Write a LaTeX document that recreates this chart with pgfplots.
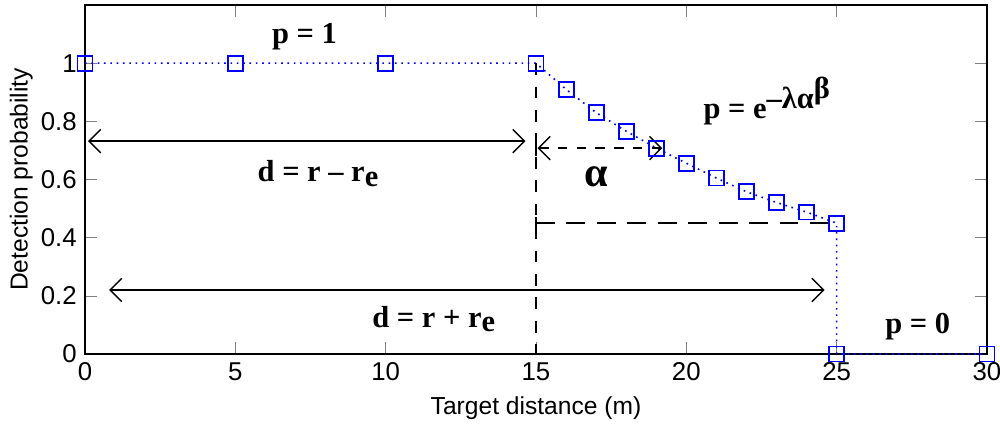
\documentclass[border=0pt]{standalone}
\usepackage{fontspec}
\setmainfont{Liberation Sans}
\newfontfamily\annf{Liberation Serif}
\usepackage{pgfplots}
\pgfplotsset{compat=1.18}
\usetikzlibrary{arrows.meta}
\begin{document}
\begin{tikzpicture}
\begin{axis}[
  scale only axis,
  width=13.53cm, height=5.235cm,
  xmin=0, xmax=30, ymin=0, ymax=1.2,
  xtick={0,5,...,30},
  ytick={0,0.2,0.4,0.6,0.8,1},
  yticklabels={0,0.2,0.4,0.6,0.8,1},
  tick align=inside,
  major tick length=5pt,
  xlabel={Target distance (m)},
  ylabel={Detection probability},
  ticklabel style={font=\fontsize{11}{12}\selectfont},
  label style={font=\fontsize{10.5}{12}\selectfont},
  ylabel style={yshift=-0.12cm},
  /pgf/number format/assume math mode=true,
  axis line style={line width=0.8pt},
  clip=false,
]
\addplot[blue, dotted, line width=0.7pt, mark=square, mark size=3.2pt, mark options={solid, line width=0.8pt}] coordinates {
(0,1)(5,1)(10,1)(15,1)(16,0.91)(17,0.83)(18,0.766)(19,0.708)(20,0.656)(21,0.605)(22,0.558)(23,0.521)(24,0.488)(25,0.45)(25,0)(30,0)
};
% annotations
\draw[black, dash pattern=on 5pt off 5pt, line width=0.6pt] (axis cs:15,1) -- (axis cs:15,0);
\draw[black, dash pattern=on 8pt off 5pt, line width=0.6pt] (axis cs:15,0.45) -- (axis cs:25,0.45);
\draw[black, line width=0.6pt] (axis cs:15,0.43) -- (axis cs:15,0.47);
\draw[black, line width=0.6pt] (axis cs:15,0.68) -- (axis cs:15,0.745);
\draw[black, line width=0.6pt, {Straight Barb[length=5pt,width=10pt]}-{Straight Barb[length=5pt,width=10pt]}] (axis cs:0.1,0.732) -- (axis cs:14.65,0.732);
\draw[black, line width=0.6pt, dash pattern=on 4pt off 4pt, {Straight Barb[length=5pt,width=10pt]}-{Straight Barb[length=5pt,width=10pt]}] (axis cs:15.05,0.708) -- (axis cs:19.2,0.708);
\draw[black, line width=0.6pt, {Straight Barb[length=5pt,width=10pt]}-{Straight Barb[length=5pt,width=10pt]}] (axis cs:0.8,0.22) -- (axis cs:24.6,0.22);
\node[font=\annf\bfseries\fontsize{13}{14}\selectfont] at (axis cs:7.3,1.09) {p = 1};
\node[font=\annf\bfseries\fontsize{13}{14}\selectfont] at (axis cs:7.75,0.62) {d = r – r\raisebox{-0.35ex}{e}};
\node[font=\annf\bfseries\fontsize{18}{20}\selectfont] at (axis cs:17.0,0.61) {α};
\node[font=\annf\bfseries\fontsize{13}{14}\selectfont, anchor=west] at (axis cs:20.3,0.87) {p = e\raisebox{0.7ex}{–λα\raisebox{0.7ex}{β}}};
\node[font=\annf\bfseries\fontsize{13}{14}\selectfont] at (axis cs:11.6,0.12) {d = r + r\raisebox{-0.35ex}{e}};
\node[font=\annf\bfseries\fontsize{13}{14}\selectfont] at (axis cs:27.7,0.095) {p = 0};
\end{axis}
\pgfresetboundingbox
\path ([shift={(-1.275cm,-1.05cm)}]current axis.south west) rectangle ([shift={(0.195cm,0.075cm)}]current axis.north east);
\end{tikzpicture}
\end{document}
